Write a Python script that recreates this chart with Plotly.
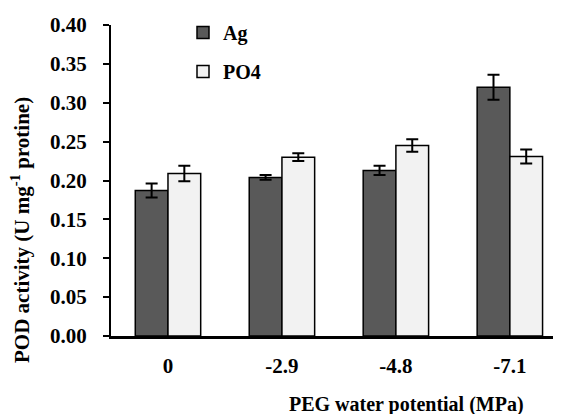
import plotly.graph_objects as go

categories = ["0", "-2.9", "-4.8", "-7.1"]
ag_values = [0.187, 0.204, 0.213, 0.320]
ag_errors = [0.009, 0.003, 0.006, 0.016]
po4_values = [0.209, 0.230, 0.245, 0.231]
po4_errors = [0.010, 0.005, 0.008, 0.009]
y_ticks = [0.00, 0.05, 0.10, 0.15, 0.20, 0.25, 0.30, 0.35, 0.40]

FONT = "Liberation Serif"

W, H = 553, 406
L, R, T, B = 103, 1, 17, 78
PW = W - L - R
PH = H - T - B

fig = go.Figure()
fig.add_trace(go.Bar(
    name="Ag", x=categories, y=ag_values,
    marker=dict(color="#595959", line=dict(color="black", width=1.5)),
    error_y=dict(type="data", array=ag_errors, color="black", thickness=2, width=6),
    legendgroup="a",
))
fig.add_trace(go.Bar(
    name="PO4", x=categories, y=po4_values,
    marker=dict(color="#f2f2f2", line=dict(color="black", width=1.5)),
    error_y=dict(type="data", array=po4_errors, color="black", thickness=2, width=6),
    legendgroup="b",
))

fig.update_layout(
    width=W, height=H,
    margin=dict(l=L, r=R, t=T, b=B, autoexpand=False),
    paper_bgcolor="white", plot_bgcolor="white",
    barmode="group", bargap=0.426, bargroupgap=0,
    font=dict(family=FONT, size=21, color="black", weight="bold"),
    showlegend=True,
    legend=dict(x=72 / PW, xanchor="left", y=1 + (T - 5) / PH, yanchor="top",
                font=dict(family=FONT, size=20, color="black", weight="bold"),
                tracegroupgap=10, bgcolor="rgba(0,0,0,0)"),
    xaxis=dict(
        type="category", range=[-0.5, 3.44], automargin=False,
        showline=True, linecolor="black", linewidth=2.5,
        ticks="", ticklabelstandoff=9,
        tickfont=dict(family=FONT, size=21, weight="bold"),
        showgrid=False, zeroline=False,
    ),
    yaxis=dict(
        range=[0, 0.40], tickvals=y_ticks, automargin=False,
        ticktext=[f"{v:.2f}" for v in y_ticks],
        showline=True, linecolor="black", linewidth=2,
        ticks="outside", ticklen=6, tickwidth=1.5, tickcolor="black",
        ticklabelstandoff=12,
        tickfont=dict(family=FONT, size=21, weight="bold"),
        showgrid=False, zeroline=False,
    ),
    annotations=[
        dict(text="POD activity (U mg<sup>-1</sup> protine)", textangle=-90,
             xref="paper", yref="paper", x=(12 - L) / PW, y=(T + PH - 222) / PH,
             xanchor="center", yanchor="middle", showarrow=False,
             font=dict(family=FONT, size=21, weight="bold")),
        dict(text="PEG water potential (MPa)",
             xref="paper", yref="paper", x=(398 - L) / PW, y=-(396 - T - PH) / PH,
             xanchor="center", yanchor="middle", showarrow=False,
             font=dict(family=FONT, size=20, weight="bold")),
    ],
)

fig.write_html("out.html")
